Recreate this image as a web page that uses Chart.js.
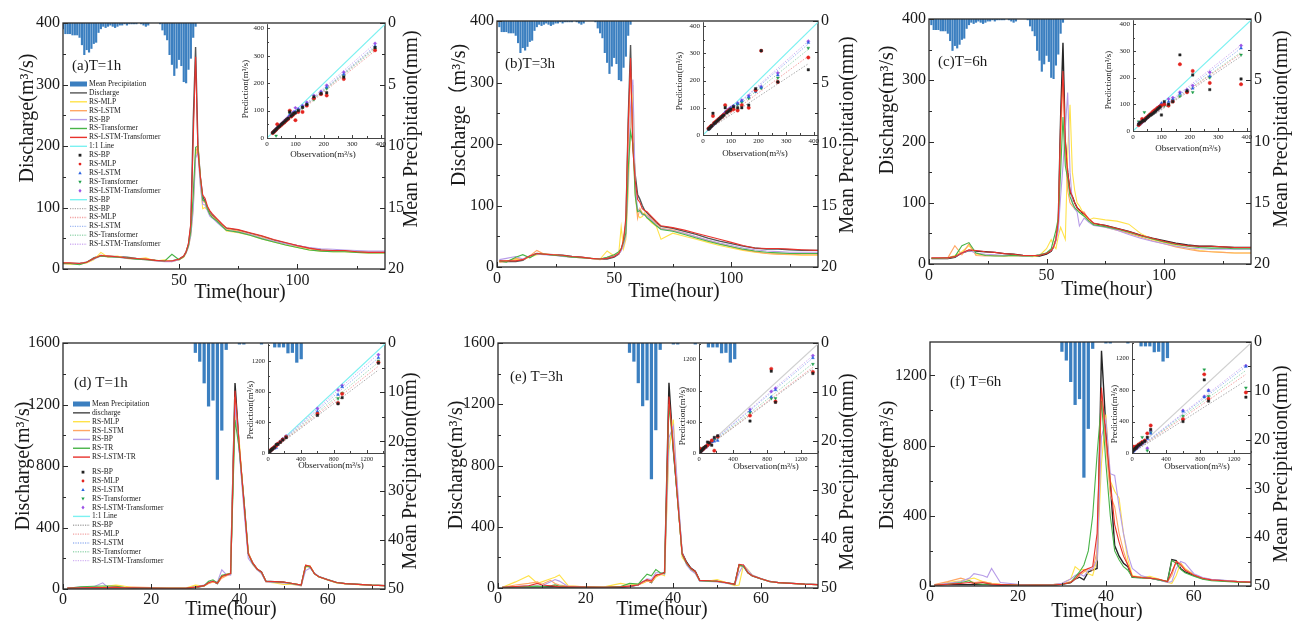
<!DOCTYPE html>
<html><head><meta charset="utf-8">
<script src="https://cdn.jsdelivr.net/npm/chart.js@4.4.1/dist/chart.umd.min.js"></script>
<style>
html,body{margin:0;padding:0;background:#fff;}
#wrap{position:relative;width:1301px;height:621px;overflow:hidden;background:#fff;}
canvas{position:absolute;}
</style></head><body><div id="wrap"></div>
<script>
// ================= DATA =================
// --- top row event (panels a, b, c) ---
const hoursTop = [1,4,8,11,14,17,20,24,28,32,36,40,44,47,50,52,53,54,55,56,57,58,59,60,61,62,63,64,66,68,70,75,80,85,90,95,100,105,110,115,120,125,130,137];
const dischargeTop = [9,9,9,11,18,22,21,20,19,17,16,14,13,13,16,21,28,40,70,240,361,200,150,118,110,100,92,88,80,72,66,63,58,53,47,42,38,34,31,29,29,28,27,27];
const precipHoursTop = [1,2,3,4,5,6,7,8,9,10,11,12,13,14,15,16,17,18,19,20,21,22,23,24,25,26,27,28,29,30,31,32,33,34,35,36,37,38,39,40,41,42,43,44,45,46,47,48,49,50,51,52,53,54,55,56,57];
const precipTop = [0.5,0.9,0.9,0.9,1.0,1.0,1.0,1.2,1.8,2.6,2.2,2.4,2.1,1.7,1.6,0.8,0.5,0.3,0.4,0.3,0.2,0.3,0.4,0.3,0.2,0.2,0.1,0.2,0.1,0.1,0.1,0.1,0,0.1,0.2,0.3,0.2,0,0,0,0,0.1,0.6,1.0,1.4,2.6,3.4,4.3,3.7,3.0,3.5,4.8,4.9,3.8,2.9,1.2,0.3];

// (a) T=1h
const a_MLP  = [9,8,8,10,15,27,19,21,17,16,18,13,15,12,15,19,26,36,55,100,185,195,140,98,100,96,88,84,78,70,62,59,55,49,44,39,35,31,29,28,28,27,26,26];
const a_LSTM = [10,9,9,11,17,22,21,20,18,17,15,14,13,13,15,20,27,38,60,110,190,200,150,110,108,98,90,86,79,71,65,62,57,52,46,41,37,33,30,29,29,28,27,27];
const a_BP   = [9,9,8,11,16,21,20,19,17,16,15,13,12,12,15,20,26,36,55,95,180,190,135,105,104,95,86,83,76,69,63,60,56,50,45,41,38,35,33,32,31,30,29,29];
const a_TR   = [9,9,7,11,17,21,20,19,18,16,15,14,13,24,15,20,27,38,62,120,198,200,150,112,110,98,89,84,78,70,63,60,55,49,44,39,35,31,29,28,28,27,26,26];
const a_LTR  = [10,10,9,11,17,22,21,20,18,17,16,14,13,13,16,21,28,42,75,210,345,190,150,120,115,102,95,90,82,74,67,64,59,54,48,43,38,34,31,30,30,28,27,27];
// (b) T=3h
const b_MLP  = [9,10,12,13,16,20,21,20,18,16,15,14,13,26,18,24,65,30,45,120,230,296,120,85,80,82,88,80,72,66,45,55,50,45,40,35,31,27,24,22,21,20,19,19];
const b_LSTM = [8,9,14,12,18,27,21,20,18,16,15,14,12,16,20,22,28,40,60,200,320,210,120,79,95,88,86,84,78,70,63,60,55,49,43,38,33,28,25,22,21,21,20,20];
const b_BP   = [12,14,17,13,18,21,20,19,17,16,15,14,13,15,18,22,26,35,50,140,260,305,130,95,90,85,84,82,76,68,62,59,55,49,44,39,35,31,28,26,25,24,24,24];
const b_TR   = [10,8,16,20,15,22,21,19,18,16,15,14,13,16,20,25,30,40,55,160,220,200,115,90,92,86,85,80,74,67,61,58,53,47,42,37,33,29,26,24,23,22,22,22];
const b_LTR  = [10,10,10,12,18,22,21,20,19,17,16,14,13,14,17,22,29,45,80,230,340,190,140,110,105,95,92,90,82,74,67,64,60,55,50,45,40,35,31,30,30,29,28,27];
// (c) T=6h
const c_MLP  = [9,9,10,14,20,30,16,15,14,13,14,13,12,14,25,40,30,25,45,60,50,40,180,260,150,120,100,95,80,72,75,72,70,65,50,40,35,30,26,22,20,19,18,18];
const c_LSTM = [9,9,10,30,15,33,14,13,14,13,14,13,13,15,18,22,28,40,70,200,300,180,120,100,95,90,88,86,85,72,65,60,55,50,44,38,33,28,24,21,20,19,18,18];
const c_BP   = [9,9,10,12,18,22,18,16,15,14,14,13,13,15,18,22,28,38,55,110,160,220,280,150,100,90,85,62,75,68,63,60,55,48,42,37,33,29,26,25,24,24,24,24];
const c_TR   = [9,9,10,12,30,35,18,14,13,13,14,13,13,15,18,25,40,55,75,150,240,160,140,110,100,92,88,84,78,70,64,61,57,52,46,41,36,32,29,27,26,26,25,25];
const c_LTR  = [10,10,10,12,18,23,22,20,19,17,16,14,14,14,17,22,28,40,70,230,315,200,150,120,110,100,92,88,82,74,67,63,58,53,47,42,37,33,30,29,29,28,27,27];

// --- bottom row event (panels d, e, f) ---
const hoursBot = [1,4,7,9,10,12,13,14,16,20,24,28,30,32,33,34,35,36,37,38,39,40,41,42,43,44,45,46,48,50,52,54,55,56,57,58,60,62,64,67,70,73];
const dischargeBot = [5,8,8,8,8,8,8,7,6,5,5,5,10,20,40,50,35,80,90,100,1340,900,580,230,170,130,110,50,48,45,35,25,150,145,100,80,60,42,35,30,25,22];
const precipHoursBot = [30,31,32,33,34,35,36,37,40,41,45,48,49,50,51,52,53,54];
const precipBot = [2.0,3.8,8.2,12.9,11.7,27.8,17.8,1.4,0.3,0.3,0.3,0.9,0.9,0.9,2.1,2.0,4.0,3.3];

// (d) T=1h
const d_MLP  = [5,10,12,15,20,25,22,18,10,8,6,8,25,20,40,45,40,75,95,100,1150,950,560,240,160,125,105,45,40,30,30,20,140,150,100,78,58,40,33,28,24,21];
const d_LSTM = [8,10,12,10,10,15,12,10,12,10,8,8,12,22,35,45,40,70,85,95,1250,920,560,240,170,130,108,50,46,44,35,25,155,150,100,80,60,42,34,29,24,21];
const d_BP   = [6,12,15,40,15,12,10,8,8,6,5,6,12,25,45,50,45,125,95,90,1200,880,520,200,160,125,100,45,42,40,32,20,120,135,105,82,60,42,34,29,24,21];
const d_TR   = [5,15,18,20,20,18,14,10,8,6,5,6,12,22,50,60,40,90,95,100,1100,900,580,230,165,130,108,50,46,44,35,25,150,145,100,80,60,42,35,30,25,22];
const d_LTR  = [6,8,10,10,10,12,10,8,8,6,5,6,12,22,40,50,38,82,92,100,1290,920,570,230,170,130,110,50,48,45,36,25,155,148,100,80,60,42,35,30,25,22];
// (e) T=3h
const e_MLP  = [5,40,80,30,40,60,70,85,15,8,6,30,20,25,30,45,40,70,90,80,900,1100,600,200,160,120,95,50,45,55,35,15,20,150,120,85,60,42,34,29,24,21];
const e_LSTM = [5,20,30,40,25,50,30,20,12,8,6,10,15,20,35,45,40,75,85,95,1200,950,560,220,160,120,100,48,45,42,34,22,140,145,100,80,60,42,34,29,24,21];
const e_BP   = [5,10,15,12,15,40,55,45,10,6,5,8,12,20,40,60,55,100,100,90,980,1060,640,230,150,115,95,45,42,40,32,20,100,150,115,85,62,43,35,30,25,22];
const e_TR   = [5,8,10,12,10,15,20,12,8,6,5,10,30,25,60,90,80,120,100,95,1200,900,560,220,160,125,105,48,45,42,34,22,150,140,100,80,60,42,35,30,25,22];
const e_LTR  = [5,10,15,30,20,15,12,10,8,6,5,8,12,20,40,55,45,85,90,100,1250,920,570,225,165,128,108,50,47,44,35,24,155,150,100,80,60,42,35,30,25,22];
// (f) T=6h
const f_MLP  = [5,20,30,40,45,25,20,15,10,8,6,8,15,40,110,90,95,70,60,150,700,977,600,540,500,300,150,60,50,55,40,20,15,60,130,100,65,45,36,30,25,22];
const f_LSTM = [8,25,45,30,20,25,20,15,10,8,6,8,12,25,40,60,80,100,90,200,1100,800,520,450,300,200,120,55,48,45,38,25,60,140,130,95,65,45,36,30,25,22];
const f_BP   = [5,15,25,45,70,60,50,100,20,10,6,8,15,40,60,70,55,90,100,150,850,950,640,630,450,300,180,100,60,45,35,20,25,100,140,130,70,48,38,32,26,22];
const f_TR   = [5,10,20,30,15,10,12,10,8,6,5,6,10,20,50,80,120,200,400,750,1053,700,400,200,150,110,90,50,46,44,35,25,145,130,95,75,55,38,30,26,22,20];
const f_LTR  = [5,10,15,20,15,20,15,10,8,6,5,6,10,20,40,70,90,100,110,300,1130,850,600,350,250,170,120,55,48,45,38,25,80,140,120,90,62,44,35,30,25,22];

// --- inset scatter data (order: RS-BP, RS-MLP, RS-LSTM, RS-Transformer, RS-LSTM-Transformer) ---
const scatterObsTop = [20,24,28,32,36,40,45,50,55,60,65,70,75,80,85,90,95,100,110,125,140,165,190,210,270,380];
const sa_BP   = [19,23,27,31,35,40,44,49,54,58,63,68,72,95,80,85,90,92,100,112,122,150,162,165,222,330];
const sa_MLP  = [18,22,26,30,50,38,43,47,52,56,61,66,70,100,78,83,88,65,95,95,118,145,160,155,215,320];
const sa_LSTM = [19,23,28,32,36,40,45,49,54,59,64,68,73,85,82,87,92,96,104,115,125,148,165,185,232,335];
const sa_TR   = [18,22,27,8,35,39,44,48,53,58,62,67,71,90,80,85,90,94,101,110,120,140,160,180,225,325];
const sa_LTR  = [20,24,28,33,37,41,46,51,56,61,66,71,76,82,86,91,96,110,106,118,130,155,170,192,240,345];
const sb_BP   = [22,25,30,34,80,42,46,51,55,60,64,69,73,100,82,86,90,95,104,100,100,110,170,310,195,240];
const sb_MLP  = [24,28,32,35,70,44,48,52,57,61,66,70,75,110,84,88,92,90,95,90,110,100,165,310,195,285];
const sb_LSTM = [21,25,29,33,37,41,46,50,55,60,65,69,74,85,83,88,92,97,106,115,125,140,160,175,220,340];
const sb_TR   = [21,24,28,33,37,40,45,50,55,59,64,68,73,105,82,87,92,96,104,112,120,135,160,172,210,320];
const sb_LTR  = [22,26,30,34,38,42,47,52,57,62,67,72,76,82,87,92,97,101,108,118,128,145,165,178,228,345];
const sc_BP   = [25,30,33,36,40,38,45,50,55,60,62,66,70,75,80,85,90,60,110,100,110,285,150,210,155,195];
const sc_MLP  = [22,28,32,45,38,42,48,52,57,62,67,72,77,80,85,88,92,96,100,95,110,250,145,225,180,175];
const sc_LSTM = [30,25,29,33,37,41,46,50,55,60,64,68,73,78,82,88,92,104,100,110,118,140,150,160,205,310];
const sc_TR   = [35,32,30,34,38,70,45,50,55,58,62,67,71,76,81,86,90,95,95,95,115,130,145,145,200,285];
const sc_LTR  = [22,26,29,33,37,41,46,51,56,61,66,70,75,80,85,90,95,100,105,120,125,145,155,170,220,320];

const scatterObsBot = [5,10,20,30,40,50,60,80,100,120,150,180,220,600,850,900,1340];
const sd_BP   = [8,12,18,28,40,48,58,75,110,115,140,170,200,490,640,720,1170];
const sd_MLP  = [10,15,25,32,42,52,62,80,95,120,145,175,210,510,650,770,1180];
const sd_LSTM = [6,10,20,30,40,50,60,60,70,110,150,180,215,540,760,860,1240];
const sd_TR   = [8,12,22,30,40,52,60,78,100,118,148,178,212,520,710,780,1200];
const sd_LTR  = [6,12,22,32,42,52,62,82,102,122,152,182,220,580,820,880,1280];
const se_BP   = [10,15,22,30,45,55,70,85,140,130,100,200,220,410,1050,650,1020];
const se_MLP  = [60,15,25,35,45,52,65,80,100,125,160,30,210,480,1080,660,1040];
const se_LSTM = [5,10,20,30,40,50,60,70,90,110,140,150,160,540,720,810,1220];
const se_TR   = [8,12,25,60,40,55,65,85,100,120,145,170,200,520,700,700,1140];
const se_LTR  = [8,14,24,34,44,55,65,85,105,125,155,185,215,560,790,830,1250];
const sf_BP   = [20,30,40,50,60,70,80,100,110,130,150,200,300,400,930,660,710];
const sf_MLP  = [40,60,80,70,60,80,90,110,120,140,160,250,350,430,1000,690,770];
const sf_LSTM = [10,20,30,40,50,60,70,90,110,120,150,180,250,530,710,790,1100];
const sf_TR   = [15,25,40,50,60,70,90,110,130,200,150,30,260,470,1060,720,830];
const sf_LTR  = [10,20,30,40,50,60,70,90,110,130,150,60,280,540,720,800,1110];

// fitted lines (start, end) and 1:1 line extents
const fitXTop = [20, 380];
const fitXBot = [0, 1340];
const fitA = [[18,330],[17,318],[19,335],[18,325],[20,345]];
const fitB = [[20,262],[20,290],[20,335],[20,315],[20,345]];
const fitC = [[22,280],[22,290],[20,310],[22,295],[20,322]];
const fitD = [[0,1080],[0,1130],[0,1240],[0,1180],[0,1290]];
const fitE = [[0,1080],[0,1100],[0,1220],[0,1150],[0,1250]];
const fitF = [[0,920],[0,1000],[0,1100],[0,1050],[0,1130]];
const oneLineTop = [0, 415];
const oneLineBot = [0, 1420];

// text
const panelLabels = ['(a)T=1h','(b)T=3h','(c)T=6h','(d) T=1h','(e) T=3h','(f) T=6h'];
const yTitles = ['Discharge(m³/s)','Discharge（m³/s)','Discharge(m³/s)','Discharge(m³/s)','Discharge(m³/s)','Discharge(m³/s)'];
const y2Title = 'Mean Precipitation(mm)';
const xTitle = 'Time(hour)';
const insetXTitle = 'Observation(m³/s)';
const insetYTitle = 'Prediction(m³/s)';
const legendLabelsA = ['Mean Precipitation','Discharge','RS-MLP','RS-LSTM','RS-BP','RS-Transformer','RS-LSTM-Transformer','1:1 Line','RS-BP','RS-MLP','RS-LSTM','RS-Transformer','RS-LSTM-Transformer','RS-BP','RS-BP','RS-MLP','RS-LSTM','RS-Transformer','RS-LSTM-Transformer'];
const legendLabelsD = ['Mean Precipitation','discharge','RS-MLP','RS-LSTM','RS-BP','RS-TR','RS-LSTM-TR','RS-BP','RS-MLP','RS-LSTM','RS-Transformer','RS-LSTM-Transformer','1:1 Line','RS-BP','RS-MLP','RS-LSTM','RS-Transformer','RS-LSTM-Transformer'];

// ================= STYLE =================
const SERIF = "'Liberation Serif','Times New Roman','Noto Sans CJK SC',serif";
const TXT = '#1a1a1a', AXIS = '#2a2a2a', BAR = '#3b7fc0';
const C = {obsTop:'#555555', obsBot:'#262626', MLP:'#ffe24a', LSTM:'#ffa664', BP:'#b79ce8', TR:'#48b448', LTR:'#e8322c', cyan:'#7cf1f1', grey:'#d0d0d0'};
const SC = ['#222222','#e3241f','#2a62e0','#1f9e4a','#9b52e6'];
const FITC = ['#ababab','#f2a2a2','#9fb8f2','#9fd9b6','#d2b2f2'];
const MARKS = ['rect','circle','tri','triDown','diamond'];
Chart.defaults.font.family = SERIF;
const plain = v => String(v);

const wrap = document.getElementById('wrap');
function addCanvas(b) {
  const c = document.createElement('canvas');
  c.width = b.w; c.height = b.h;
  c.style.left = b.x + 'px'; c.style.top = b.y + 'px';
  c.style.width = b.w + 'px'; c.style.height = b.h + 'px';
  wrap.appendChild(c);
  return c;
}
function txt(ctx, s, x, y, font, rot, align) {
  ctx.save(); ctx.translate(x, y); if (rot) ctx.rotate(rot);
  ctx.font = font; ctx.fillStyle = TXT; ctx.textAlign = align || 'center'; ctx.textBaseline = 'middle';
  ctx.fillText(s, 0, 0); ctx.restore();
}
function marker(ctx, st, x, y, r, c) {
  ctx.save(); ctx.fillStyle = c; ctx.beginPath();
  if (st === 'rect') ctx.rect(x - r, y - r, 2 * r, 2 * r);
  else if (st === 'circle') ctx.arc(x, y, r, 0, Math.PI * 2);
  else if (st === 'tri') { ctx.moveTo(x, y - r * 1.3); ctx.lineTo(x + r * 1.2, y + r * 0.9); ctx.lineTo(x - r * 1.2, y + r * 0.9); ctx.closePath(); }
  else if (st === 'triDown') { ctx.moveTo(x, y + r * 1.3); ctx.lineTo(x + r * 1.2, y - r * 0.9); ctx.lineTo(x - r * 1.2, y - r * 0.9); ctx.closePath(); }
  else { ctx.moveTo(x, y - r * 1.4); ctx.lineTo(x + r * 1.1, y); ctx.lineTo(x, y + r * 1.4); ctx.lineTo(x - r * 1.1, y); ctx.closePath(); }
  ctx.fill(); ctx.restore();
}
function ticksIn(ctx, scale, side, minorStep, majLen, minLen) {
  const a = scale.chart.chartArea;
  const vals = scale.ticks.map(t => t.value);
  const draw = (v, len) => {
    const p = Math.round(scale.getPixelForValue(v)) + 0.5;
    ctx.beginPath();
    if (side === 'bottom') { ctx.moveTo(p, a.bottom); ctx.lineTo(p, a.bottom - len); }
    else if (side === 'left') { ctx.moveTo(a.left, p); ctx.lineTo(a.left + len, p); }
    else { ctx.moveTo(a.right, p); ctx.lineTo(a.right - len, p); }
    ctx.stroke();
  };
  vals.forEach(v => draw(v, majLen));
  if (minorStep) {
    for (let v = Math.ceil(scale.min / minorStep) * minorStep; v <= scale.max + 1e-9; v += minorStep) {
      if (!vals.some(m => Math.abs(m - v) < 1e-6)) draw(v, minLen);
    }
  }
}
function drawLegend(ctx, G, b) {
  G.labels.forEach((lab, i) => {
    const y = G.y0 + G.step * i + (i >= G.gapAt ? G.gap : 0) - b.y;
    const x = G.x0 - b.x;
    const k = G.kinds[i], c = G.colors[i];
    ctx.save();
    if (k === 'bar') { ctx.fillStyle = c; ctx.fillRect(x, y - 2.5, 17, 5); }
    else if (k === 'line' || k === 'dot') {
      ctx.strokeStyle = c; ctx.lineWidth = 1.4; ctx.setLineDash(k === 'dot' ? [1.2, 1.2] : []);
      ctx.beginPath(); ctx.moveTo(x, y); ctx.lineTo(x + 17, y); ctx.stroke();
    } else { marker(ctx, G.marks[i], x + 10, y, 1.4, c); }
    ctx.restore();
    txt(ctx, lab, x + 19, y, G.font, 0, 'left');
  });
}

function mainPanel(P) {
  const b = P.box, A = P.area;
  const cv = addCanvas(b);
  const T = A.T - b.y, L = A.L - b.x, R = A.R - b.x, B = A.B - b.y;
  const datasets = [{
    type: 'bar', data: P.px.map((x, i) => ({x: x, y: P.py[i]})), xAxisID: 'x', yAxisID: 'y2',
    backgroundColor: BAR, borderWidth: 0, barPercentage: P.barPct, categoryPercentage: 1, order: 20
  }];
  P.lines.forEach(s => datasets.push({
    type: 'line', data: P.hours.map((x, i) => ({x: x, y: s.v[i]})), xAxisID: 'x', yAxisID: 'y',
    borderColor: s.c, borderWidth: s.w, pointRadius: 0, pointHoverRadius: 0, fill: false, tension: 0, order: s.o
  }));
  const tf = {family: SERIF, size: 16};
  const deco = {
    id: 'deco',
    afterDraw(ch) {
      const ctx = ch.ctx, a = ch.chartArea;
      ctx.save();
      ctx.strokeStyle = AXIS; ctx.lineWidth = 1.3;
      ctx.strokeRect(a.left, a.top, a.right - a.left, a.bottom - a.top);
      ctx.lineWidth = 1;
      ticksIn(ctx, ch.scales.x, 'bottom', P.xMinor, 5, 3);
      ticksIn(ctx, ch.scales.y, 'left', P.yMinor, 5, 3);
      ticksIn(ctx, ch.scales.y2, 'right', P.y2Minor, 5, 3);
      const TF = '20px ' + SERIF;
      txt(ctx, P.yTitle, P.lt[0] - b.x, P.lt[1] - b.y, TF, -Math.PI / 2);
      txt(ctx, y2Title, P.rt[0] - b.x, P.rt[1] - b.y, TF, -Math.PI / 2);
      txt(ctx, xTitle, P.bt[0] - b.x, P.bt[1] - b.y, TF, 0);
      txt(ctx, P.label, P.lab[0] - b.x, P.lab[1] - b.y, '15px ' + SERIF, 0, 'left');
      if (P.legend) drawLegend(ctx, P.legend, b);
      ctx.restore();
    }
  };
  new Chart(cv, {
    type: 'line', data: {datasets},
    options: {
      responsive: false, animation: false, devicePixelRatio: 1, events: [],
      layout: {padding: {top: T, left: 0, right: 0, bottom: 0}},
      plugins: {legend: {display: false}, tooltip: {enabled: false}},
      scales: {
        x: {type: 'linear', position: 'bottom', min: P.xMin, max: P.xMax, offset: false,
          ticks: {stepSize: P.xStep, includeBounds: false, font: tf, color: TXT, padding: P.xPad, maxRotation: 0, autoSkip: false, callback: plain},
          grid: {display: false, drawTicks: false}, border: {display: false},
          afterFit: s => { s.height = b.h - B; }},
        y: {type: 'linear', position: 'left', min: 0, max: P.yMax,
          ticks: {stepSize: P.yStep, includeBounds: false, font: tf, color: TXT, padding: 3, callback: plain},
          grid: {display: false, drawTicks: false}, border: {display: false},
          afterFit: s => { s.width = L; }},
        y2: {type: 'linear', position: 'right', min: 0, max: P.y2Max, reverse: true,
          ticks: {stepSize: P.y2Step, includeBounds: false, font: tf, color: TXT, padding: 3, callback: plain},
          grid: {display: false, drawTicks: false}, border: {display: false},
          afterFit: s => { s.width = b.w - R; }}
      }
    },
    plugins: [deco]
  });
}

function insetPanel(Q) {
  const b = {x: Q.L - 40, y: Q.T - 6, w: Q.R - Q.L + 48, h: Q.B - Q.T + 30};
  const cv = addCanvas(b);
  const datasets = [];
  Q.pred.forEach((pr, k) => datasets.push({
    type: 'scatter', data: Q.obs.map((x, i) => ({x: x, y: pr[i]})), showLine: false,
    pointStyle: ['rect','circle','triangle','triangle','rectRot'][k], pointRotation: k === 3 ? 180 : 0,
    pointRadius: 1.7, pointBackgroundColor: SC[k], pointBorderColor: SC[k], pointBorderWidth: 0.4, order: 1
  }));
  datasets.push({type: 'line', data: Q.one.map(v => ({x: v, y: v})), borderColor: Q.oneColor, borderWidth: 1.2, pointRadius: 0, order: 3});
  Q.fit.forEach((f, k) => datasets.push({
    type: 'line', data: Q.fitX.map((x, i) => ({x: x, y: f[i]})), borderColor: FITC[k], borderWidth: 1,
    borderDash: [1.5, 1.5], pointRadius: 0, order: 2
  }));
  const tf = {family: SERIF, size: Q.tickSize};
  const deco = {
    id: 'ideco',
    afterDraw(ch) {
      const ctx = ch.ctx, a = ch.chartArea;
      ctx.save();
      ctx.strokeStyle = '#444'; ctx.lineWidth = 1;
      ctx.beginPath(); ctx.moveTo(a.left + 0.5, a.top); ctx.lineTo(a.left + 0.5, a.bottom + 0.5); ctx.lineTo(a.right, a.bottom + 0.5); ctx.stroke();
      ticksIn(ctx, ch.scales.x, 'bottom', Q.step / 2, 3, 2);
      ticksIn(ctx, ch.scales.y, 'left', Q.step / 2, 3, 2);
      const F = '9px ' + SERIF;
      txt(ctx, insetYTitle, Q.pt[0] - b.x, Q.pt[1] - b.y, F, -Math.PI / 2);
      txt(ctx, insetXTitle, Q.ot[0] - b.x, Q.ot[1] - b.y, F, 0);
      ctx.restore();
    }
  };
  new Chart(cv, {
    type: 'scatter', data: {datasets},
    options: {
      responsive: false, animation: false, devicePixelRatio: 1, events: [],
      layout: {padding: {top: 6, right: 8, left: 0, bottom: 0}},
      plugins: {legend: {display: false}, tooltip: {enabled: false}},
      scales: {
        x: {type: 'linear', min: 0, max: Q.max,
          ticks: {stepSize: Q.step, includeBounds: false, font: tf, color: TXT, padding: 2, maxRotation: 0, autoSkip: false, callback: plain},
          grid: {display: false, drawTicks: false}, border: {display: false},
          afterFit: s => { s.height = 24; }},
        y: {type: 'linear', min: 0, max: Q.max,
          ticks: {stepSize: Q.step, includeBounds: false, font: tf, color: TXT, padding: 3, callback: plain},
          grid: {display: false, drawTicks: false}, border: {display: false},
          afterFit: s => { s.width = 40; }}
      }
    },
    plugins: [deco]
  });
}

function modelLines(obs, obsColor, mlp, lstm, bp, tr, ltr) {
  return [
    {v: obs, c: obsColor, w: 1.4, o: 6},
    {v: mlp, c: C.MLP, w: 1.1, o: 5},
    {v: lstm, c: C.LSTM, w: 1.1, o: 4},
    {v: bp, c: C.BP, w: 1.1, o: 3},
    {v: tr, c: C.TR, w: 1.1, o: 2},
    {v: ltr, c: C.LTR, w: 1.1, o: 1}
  ];
}
const topScale = {yMax: 400, yStep: 100, yMinor: 50, y2Max: 20, y2Step: 5, y2Minor: 2.5, xMax: 137, xStep: 50, xMinor: 25, xPad: 2,
  hours: hoursTop, px: precipHoursTop, py: precipTop, barPct: 0.92};
const botScale = {yMax: 1600, yStep: 400, yMinor: 200, y2Max: 50, y2Step: 10, y2Minor: 5, xMin: 0, xMax: 73, xStep: 20, xMinor: 10, xPad: 1,
  hours: hoursBot, px: precipHoursBot, py: precipBot, barPct: 0.74};

const legendA = {labels: legendLabelsA, x0: 70, y0: 84, step: 8.9, gapAt: 99, gap: 0, font: '7.5px ' + SERIF,
  kinds: ['bar','line','line','line','line','line','line','line','pt','pt','pt','pt','pt','line','dot','dot','dot','dot','dot'],
  colors: [BAR, C.obsTop, C.MLP, C.LSTM, C.BP, C.TR, C.LTR, C.cyan, SC[0], SC[1], SC[2], SC[3], SC[4], C.cyan, FITC[0], FITC[1], FITC[2], FITC[3], FITC[4]],
  marks: [0,0,0,0,0,0,0,0].concat(MARKS).concat([0,0,0,0,0,0])};
const legendD = {labels: legendLabelsD, x0: 73, y0: 404, step: 8.85, gapAt: 7, gap: 6.2, font: '7.5px ' + SERIF,
  kinds: ['bar','line','line','line','line','line','line','pt','pt','pt','pt','pt','line','dot','dot','dot','dot','dot'],
  colors: [BAR, '#444444', C.MLP, C.LSTM, C.BP, C.TR, C.LTR, SC[0], SC[1], SC[2], SC[3], SC[4], C.cyan, FITC[0], FITC[1], FITC[2], FITC[3], FITC[4]],
  marks: [0,0,0,0,0,0,0].concat(MARKS).concat([0,0,0,0,0,0])};

// ---- main panels ----
mainPanel(Object.assign({}, topScale, {xMin: 1, box: {x: 0, y: 0, w: 436, h: 310}, area: {L: 63, T: 23, R: 385, B: 269},
  lt: [28, 118], rt: [412, 129], bt: [240, 293], lab: [72, 66], label: panelLabels[0], yTitle: yTitles[0], legend: legendA,
  lines: modelLines(dischargeTop, C.obsTop, a_MLP, a_LSTM, a_BP, a_TR, a_LTR)}));
mainPanel(Object.assign({}, topScale, {xMin: 0, box: {x: 436, y: 0, w: 430, h: 310}, area: {L: 497, T: 21, R: 818, B: 267},
  lt: [460, 115], rt: [848, 135], bt: [674, 292], lab: [505, 64], label: panelLabels[1], yTitle: yTitles[1],
  lines: modelLines(dischargeTop, C.obsTop, b_MLP, b_LSTM, b_BP, b_TR, b_LTR)}));
mainPanel(Object.assign({}, topScale, {xMin: 0, box: {x: 866, y: 0, w: 435, h: 310}, area: {L: 929, T: 19, R: 1251, B: 264},
  lt: [888, 110], rt: [1282, 129], bt: [1107, 290], lab: [938, 62], label: panelLabels[2], yTitle: yTitles[2],
  lines: modelLines(dischargeTop, C.obsBot, c_MLP, c_LSTM, c_BP, c_TR, c_LTR)}));
mainPanel(Object.assign({}, botScale, {box: {x: 0, y: 326, w: 436, h: 295}, area: {L: 63, T: 343, R: 385, B: 589},
  lt: [24, 466], rt: [411, 471], bt: [231, 610], lab: [74, 383], label: panelLabels[3], yTitle: yTitles[3], legend: legendD,
  lines: modelLines(dischargeBot, C.obsBot, d_MLP, d_LSTM, d_BP, d_TR, d_LTR)}));
mainPanel(Object.assign({}, botScale, {box: {x: 436, y: 326, w: 430, h: 295}, area: {L: 498, T: 343, R: 818, B: 588},
  lt: [457, 465], rt: [848, 472], bt: [662, 610], lab: [510, 377], label: panelLabels[4], yTitle: yTitles[4],
  lines: modelLines(dischargeBot, C.obsBot, e_MLP, e_LSTM, e_BP, e_TR, e_LTR)}));
mainPanel(Object.assign({}, botScale, {yMax: 1390, box: {x: 866, y: 326, w: 435, h: 295}, area: {L: 930, T: 342, R: 1251, B: 586},
  lt: [888, 465], rt: [1282, 464], bt: [1097, 612], lab: [950, 382], label: panelLabels[5], yTitle: yTitles[5],
  lines: modelLines(dischargeBot, C.obsBot, f_MLP, f_LSTM, f_BP, f_TR, f_LTR)}));

// ---- insets ----
const topInset = {max: 415, step: 100, tickSize: 7, obs: scatterObsTop, fitX: fitXTop, one: oneLineTop, oneColor: C.cyan};
const botInset = {max: 1420, step: 400, tickSize: 6.5, obs: scatterObsBot, fitX: fitXBot, one: oneLineBot};
insetPanel(Object.assign({}, topInset, {L: 267, T: 23, R: 385, B: 138, pt: [246, 89], ot: [323, 155],
  pred: [sa_BP, sa_MLP, sa_LSTM, sa_TR, sa_LTR], fit: fitA}));
insetPanel(Object.assign({}, topInset, {L: 703, T: 21, R: 818, B: 135, pt: [680, 81], ot: [755, 154],
  pred: [sb_BP, sb_MLP, sb_LSTM, sb_TR, sb_LTR], fit: fitB}));
insetPanel(Object.assign({}, topInset, {L: 1133, T: 19, R: 1251, B: 131, pt: [1109, 80], ot: [1188, 149],
  pred: [sc_BP, sc_MLP, sc_LSTM, sc_TR, sc_LTR], fit: fitC}));
insetPanel(Object.assign({}, botInset, {L: 268, T: 343, R: 385, B: 453, pt: [251, 410], ot: [331, 466], oneColor: C.cyan,
  pred: [sd_BP, sd_MLP, sd_LSTM, sd_TR, sd_LTR], fit: fitD}));
insetPanel(Object.assign({}, botInset, {max: 1400, L: 699, T: 343, R: 818, B: 453, pt: [683, 416], ot: [766, 467], oneColor: C.grey,
  pred: [se_BP, se_MLP, se_LSTM, se_TR, se_LTR], fit: fitE}));
insetPanel(Object.assign({}, botInset, {max: 1400, L: 1132, T: 342, R: 1251, B: 453, pt: [1115, 414], ot: [1197, 467], oneColor: C.grey,
  pred: [sf_BP, sf_MLP, sf_LSTM, sf_TR, sf_LTR], fit: fitF}));
</script>
</body></html>
